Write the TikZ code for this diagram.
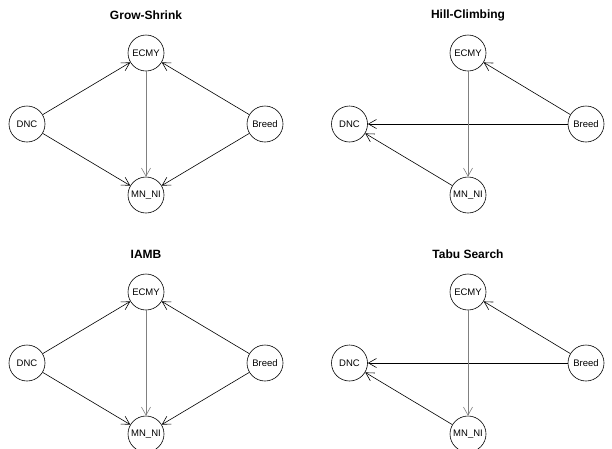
\documentclass[tikz,border=0pt]{standalone}
\usepackage{fontspec}
\setmainfont{Liberation Sans}
\usetikzlibrary{arrows.meta}
\begin{document}
\begin{tikzpicture}[x=1pt,y=-1pt,
  bnnode/.style={circle,draw,line width=0.6pt,minimum size=36pt,inner sep=0pt,
                 font=\fontsize{9.5}{10}\selectfont},
  paneltitle/.style={font=\fontsize{12}{14}\selectfont\bfseries},
  arc/.style={line width=0.6pt,-{Straight Barb[length=8pt,width=9pt,line width=0.6pt]}},
  vertarc/.style={arc,draw=black!50,line width=1pt,
                  -{Straight Barb[length=8pt,width=9pt,line width=0.6pt]}}]
\useasboundingbox (0,0) rectangle (612,448);

% Grow-Shrink
\node[paneltitle] (t1) at (146,15) {Grow-Shrink};
\node[bnnode] (a-ecmy)  at (146,53)  {ECMY};
\node[bnnode] (a-dnc)   at (27,124)  {DNC};
\node[bnnode] (a-breed) at (265,124) {Breed};
\node[bnnode] (a-mn)    at (146,195) {MN\_NI};
\draw[arc] (a-dnc) -- (a-ecmy);
\draw[arc] (a-breed) -- (a-ecmy);
\draw[arc] (a-dnc) -- (a-mn);
\draw[arc] (a-breed) -- (a-mn);
\draw[vertarc] (a-ecmy) -- (a-mn);

% Hill-Climbing
\node[paneltitle] (t2) at (468,15) {Hill-Climbing};
\node[bnnode] (b-ecmy)  at (468,53)  {ECMY};
\node[bnnode] (b-dnc)   at (349.5,124) {DNC};
\node[bnnode] (b-breed) at (586,124) {Breed};
\node[bnnode] (b-mn)    at (468,195) {MN\_NI};
\draw[arc] (b-breed) -- (b-ecmy);
\draw[arc] (b-breed) -- (b-dnc);
\draw[arc] (b-mn) -- (b-dnc);
\draw[vertarc] (b-ecmy) -- (b-mn);

% IAMB
\node[paneltitle] (t3) at (146,254) {IAMB};
\node[bnnode] (c-ecmy)  at (146,292) {ECMY};
\node[bnnode] (c-dnc)   at (27,363)  {DNC};
\node[bnnode] (c-breed) at (265,363) {Breed};
\node[bnnode] (c-mn)    at (146,434) {MN\_NI};
\draw[arc] (c-dnc) -- (c-ecmy);
\draw[arc] (c-breed) -- (c-ecmy);
\draw[arc] (c-dnc) -- (c-mn);
\draw[arc] (c-breed) -- (c-mn);
\draw[vertarc] (c-ecmy) -- (c-mn);

% Tabu Search
\node[paneltitle] (t4) at (468,254) {Tabu Search};
\node[bnnode] (d-ecmy)  at (468,292) {ECMY};
\node[bnnode] (d-dnc)   at (349.5,363) {DNC};
\node[bnnode] (d-breed) at (586,363) {Breed};
\node[bnnode] (d-mn)    at (468,434) {MN\_NI};
\draw[arc] (d-breed) -- (d-ecmy);
\draw[arc] (d-breed) -- (d-dnc);
\draw[arc] (d-mn) -- (d-dnc);
\draw[vertarc] (d-ecmy) -- (d-mn);
\end{tikzpicture}
\end{document}
